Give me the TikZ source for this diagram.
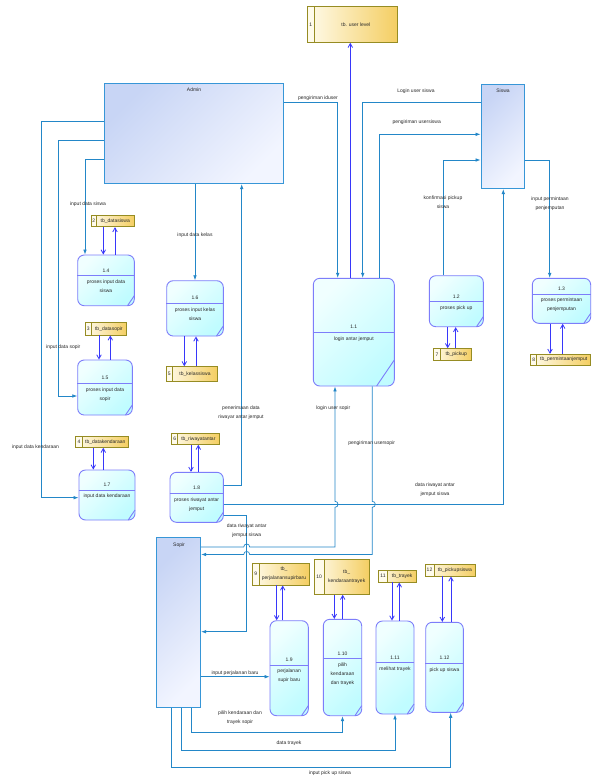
\documentclass[tikz,border=0pt]{standalone}
\usepackage{fontspec}
\setmainfont{Liberation Sans}
\usetikzlibrary{fit,arrows.meta,calc}
\definecolor{flowc}{RGB}{35,135,200}
\definecolor{storec}{RGB}{55,55,250}
\definecolor{entb}{RGB}{55,150,215}
\definecolor{entfa}{RGB}{200,213,245}
\definecolor{entfb}{RGB}{242,245,255}
\definecolor{procb}{RGB}{125,125,250}
\definecolor{procfa}{RGB}{240,255,255}
\definecolor{procf}{RGB}{192,252,255}
\definecolor{stob}{RGB}{150,140,35}
\definecolor{stofa}{RGB}{255,251,235}
\definecolor{stofb}{RGB}{244,206,98}
\definecolor{txt}{RGB}{40,40,40}
\tikzset{
 every node/.style={font=\fontsize{5}{9}\selectfont, text=txt},
 lbl/.style={inner sep=0pt, align=center},
 entity/.style={draw=entb, line width=0.9pt, inner sep=0pt, top color=entfa, bottom color=entfb, shading angle=45},
 procbox/.style={draw=procb, line width=0.9pt, rounded corners=6.5pt, inner sep=0pt, top color=procfa, bottom color=procf, shading angle=45},
 procline/.style={draw=procb, line width=0.9pt},
 storebox/.style={draw=stob, line width=0.9pt, inner sep=0pt, left color=stofa, right color=stofb},
 flow/.style={draw=flowc, line width=0.7pt, -{Latex[length=5pt,width=3.6pt]}},
 sflow/.style={draw=storec, line width=0.8pt, -{Straight Barb[length=4pt,width=4.5pt]}},
}
\newcommand\procnode[9]{%
 \node[procbox, fit={(#2,#3) (#4,#5)}] (#1) {};
 \draw[procline] (#1.west |- 0,#6) -- (#1.east |- 0,#6);
 \draw[procline] (#4,#5-#9) -- (#4-#9*0.68,#5);
 \node[lbl, anchor=base] (#1-n) at ({(#2+#4)/2},#6-3.6) {#7};
 \node[lbl, anchor=north] (#1-t) at ({(#2+#4)/2},#6+4) {#8};
}
\newcommand\storenode[8]{%
 \node[storebox, fit={(#2,#3) (#4,#5)}] (#1) {};
 \path[fill=stofa, draw=stob, line width=0.9pt] (#2,#3) rectangle (#6,#5);
 \node[lbl] (#1-n) at ({(#2+#6)/2},{(#3+#5)/2}) {#7};
 \node[lbl] (#1-t) at ({(#6+#4)/2},{(#3+#5)/2}) {#8};
}
\begin{document}
\begin{tikzpicture}[x=1pt,y=-1pt]
\useasboundingbox (0,0) rectangle (592,777);
\fill[white] (0,0) rectangle (592,777);

% external entities
\node[entity, fit={(104.3,83.7) (283.3,183.7)}] (admin) {};
\node[lbl] (admin-l) at (194,90) {Admin};
\node[entity, fit={(481,84.3) (524.3,188.7)}] (siswa) {};
\node[lbl] (siswa-l) at (503,91) {Siswa};
\node[entity, fit={(156.7,537.3) (200.7,707.3)}] (sopir) {};
\node[lbl] (sopir-l) at (179,545) {Sopir};

% data stores
\storenode{s1}{307.3}{6.7}{397.7}{42.3}{314}{1}{tb. user level}
\storenode{s2}{91}{215}{134.3}{226.7}{96.3}{2}{tb\_datasiswa}
\storenode{s3}{85.7}{322.7}{126.7}{335}{91}{3}{tb\_datasopir}
\storenode{s4}{75.7}{436.7}{128.3}{447.3}{82.3}{4}{tb\_datakendaraan}
\storenode{s5}{166}{366.7}{217.3}{381.7}{172.7}{5}{tb\_kelassiswa}
\storenode{s6}{171.7}{433.3}{219}{444.3}{177.7}{6}{tb\_riwayatantar}
\storenode{s7}{433.3}{348.7}{471.7}{360.7}{440.7}{7}{tb\_pickup}
\storenode{s8}{530.7}{354.3}{590.7}{365}{536.7}{8}{tb\_permintaanjemput}
\storenode{s9}{252.3}{563.3}{309}{585}{259}{9}{tb\_\\perjalanansupirbaru}
\storenode{s10}{314.3}{559.3}{369.3}{594.3}{324}{10}{tb\_\\kendaraantrayek}
\storenode{s11}{378.3}{570}{416.7}{582}{387.7}{11}{tb\_trayek}
\storenode{s12}{425}{564}{475.7}{576}{434}{12}{tb\_pickupsiswa}

% processes
\procnode{p11}{313.3}{278.3}{394.3}{386}{332.3}{1.1}{login antar jemput}{26}
\procnode{p12}{429.3}{275.7}{483.3}{326.7}{301.7}{1.2}{proses pick up}{10}
\procnode{p13}{532.3}{278.3}{590.7}{323.3}{294}{1.3}{proses permintaan\\penjemputan}{10}
\procnode{p14}{77.7}{255}{134.3}{305.7}{275.7}{1.4}{proses input data\\siswa}{10}
\procnode{p15}{77.7}{360}{132.3}{415}{383.3}{1.5}{proses input data\\sopir}{10}
\procnode{p16}{166.7}{280.7}{223.3}{336}{303.3}{1.6}{proses input kelas\\siswa}{10}
\procnode{p17}{79}{470}{135}{520}{490}{1.7}{input data kendaraan}{10}
\procnode{p18}{170}{472.3}{223.3}{522.3}{493.3}{1.8}{proses riwayat antar\\jemput}{10}
\procnode{p19}{270}{620.7}{308.3}{715.7}{665}{1.9}{perjalanan\\supir baru}{10}
\procnode{p110}{323.3}{619.3}{361.7}{715.7}{658.7}{1.10}{pilih\\kendaraan\\dan trayek}{10}
\procnode{p111}{376}{621}{414}{714}{662.7}{1.11}{melihat trayek}{10}
\procnode{p112}{425.7}{622.3}{463.3}{712.3}{663.3}{1.12}{pick up siswa}{10}

% flows around 1.1 and Siswa
\draw[flow] (admin.east |- 0,102) -| (p11.north -| 337.7,0);
\draw[flow] (siswa.west |- 0,102.5) -| (p11.north -| 362.7,0);
\draw[flow] (p11.north -| 379.3,0) |- (siswa.west |- 0,134.3);
\draw[flow] (p12.north -| 443.3,0) |- (siswa.west |- 0,160);
\draw[sflow] (p11.north -| 350.3,0) -- (s1.south -| 350.3,0);
\draw[flow] (siswa.east |- 0,160.7) -| (p13.north -| 549.7,0);
\draw[flow] (p18.east |- 0,504.3) -| (siswa.south -| 503.3,0);
\draw[flow] (p18.east |- 0,485) -| (admin.south -| 241.7,0);
\draw[flow] (p18.east |- 0,515.7) -| (246.7,631.7) -- (sopir.east |- 0,631.7);
\draw[flow] (sopir.east |- 0,547) -- (243.7,547) .. controls (243.7,543) and (249.7,543) .. (249.7,547) -- (335,547) -- (335,507.3) .. controls (339,507.3) and (339,501.3) .. (335,501.3) -- (p11.south -| 335,0);
\draw[flow] (p11.south -| 372.3,0) -- (372.3,501.3) .. controls (376.3,501.3) and (376.3,507.3) .. (372.3,507.3) -- (372.3,554.5) -- (249.7,554.5) .. controls (249.7,550.5) and (243.7,550.5) .. (243.7,554.5) -- (sopir.east |- 0,554.5);

% flows from Admin
\draw[flow] (admin.west |- 0,159) -| (p14.north -| 85,0);
\draw[flow] (admin.west |- 0,140.7) -| (58.3,396) -- (p15.west |- 0,396);
\draw[flow] (admin.west |- 0,121.7) -| (41.7,497.7) -- (p17.west |- 0,497.7);
\draw[flow] (admin.south -| 195,0) -- (p16.north);

% flows from Sopir
\draw[flow] (sopir.east |- 0,676.7) -- (p19.west |- 0,676.7);
\draw[flow] (sopir.south -| 191.7,0) |- (p110.south |- 0,732.5) -- (p110.south);
\draw[flow] (sopir.south -| 181.7,0) |- (p111.south |- 0,750.7) -- (p111.south);
\draw[flow] (sopir.south -| 171,0) |- (450.7,767.7) -- (p112.south -| 450.7,0);

% data store flows
\draw[sflow] (s2.south -| 103.3,0) -- (p14.north -| 103.3,0);
\draw[sflow] (p14.north -| 115,0) -- (s2.south -| 115,0);
\draw[sflow] (s3.south -| 99,0) -- (p15.north -| 99,0);
\draw[sflow] (p15.north -| 110.3,0) -- (s3.south -| 110.3,0);
\draw[sflow] (s4.south -| 93.3,0) -- (p17.north -| 93.3,0);
\draw[sflow] (p17.north -| 103.3,0) -- (s4.south -| 103.3,0);
\draw[sflow] (p16.south -| 184.3,0) -- (s5.north -| 184.3,0);
\draw[sflow] (s5.north -| 196,0) -- (p16.south -| 196,0);
\draw[sflow] (s6.south -| 191,0) -- (p18.north -| 191,0);
\draw[sflow] (p18.north -| 198.3,0) -- (s6.south -| 198.3,0);
\draw[sflow] (p12.south -| 447.7,0) -- (s7.north -| 447.7,0);
\draw[sflow] (s7.north -| 455.7,0) -- (p12.south -| 455.7,0);
\draw[sflow] (p13.south -| 550,0) -- (s8.north -| 550,0);
\draw[sflow] (s8.north -| 562.7,0) -- (p13.south -| 562.7,0);
\draw[sflow] (s9.south -| 276.7,0) -- (p19.north -| 276.7,0);
\draw[sflow] (p19.north -| 282.7,0) -- (s9.south -| 282.7,0);
\draw[sflow] (s10.south -| 334.3,0) -- (p110.north -| 334.3,0);
\draw[sflow] (p110.north -| 342.7,0) -- (s10.south -| 342.7,0);
\draw[sflow] (s11.south -| 392,0) -- (p111.north -| 392,0);
\draw[sflow] (p111.north -| 399.3,0) -- (s11.south -| 399.3,0);
\draw[sflow] (s12.south -| 442.3,0) -- (p112.north -| 442.3,0);
\draw[sflow] (p112.north -| 451,0) -- (s12.south -| 451,0);

% connector labels
\node[lbl] (l1) at (318,98) {pengiriman iduser};
\node[lbl] (l2) at (416,91.7) {Login user siswa};
\node[lbl] (l3) at (416.7,122.7) {pengiriman usersiswa};
\node[lbl] (l4) at (443,202) {konfirmasi pickup\\siswa};
\node[lbl] (l5) at (550,203.7) {input permintaan\\penjemputan};
\node[lbl] (l6) at (88,204.3) {input data siswa};
\node[lbl] (l7) at (195,235.7) {input data kelas};
\node[lbl] (l8) at (63.3,347.3) {input data sopir};
\node[lbl] (l9) at (35.5,447.3) {input data kendaraan};
\node[lbl] (l10) at (241,413) {penerimaan data\\riwayar antar jemput};
\node[lbl] (l11) at (333.3,408.3) {login user sopir};
\node[lbl] (l12) at (371.7,442.7) {pengiriman usersopir};
\node[lbl] (l13) at (435,489.5) {data riwayat antar\\jemput siswa};
\node[lbl] (l14) at (246.7,530.5) {data riwayat antar\\jemput siswa};
\node[lbl] (l15) at (235,672.7) {input perjalanan baru};
\node[lbl] (l16) at (240,717.5) {pilih kendaraan dan\\trayek sopir};
\node[lbl] (l17) at (289,743.3) {data trayek};
\node[lbl] (l18) at (330,773.3) {input pick up siswa};
\end{tikzpicture}
\end{document}
